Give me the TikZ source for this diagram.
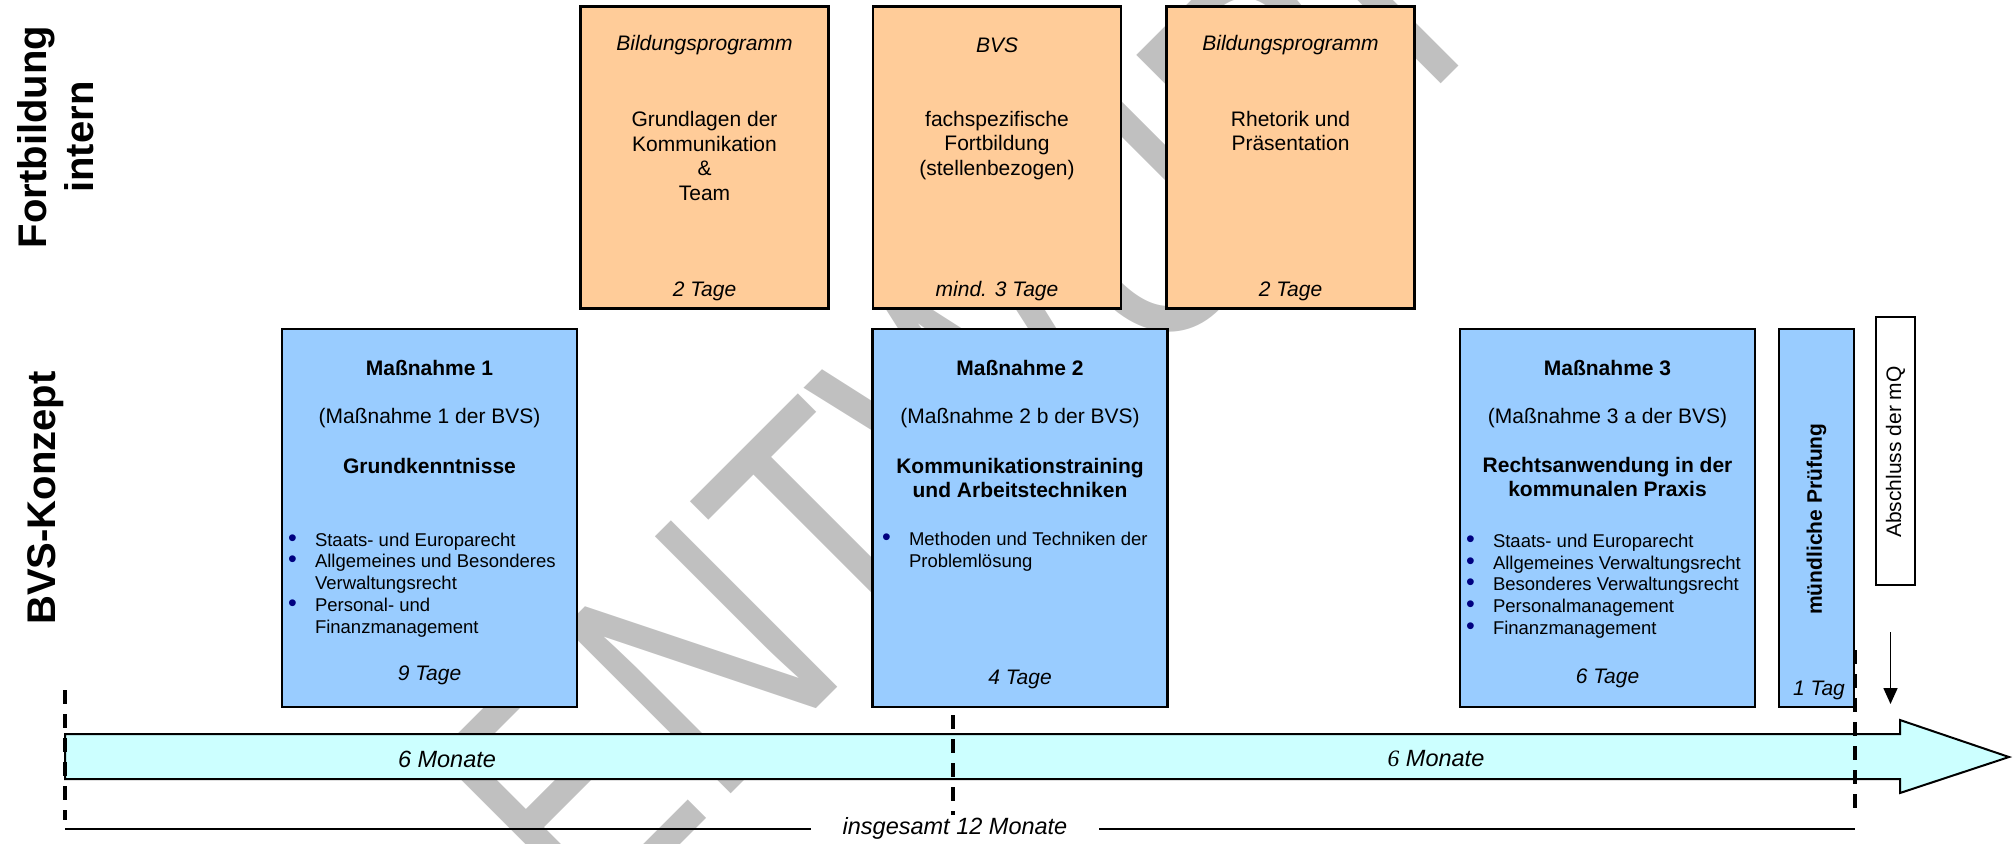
\documentclass[tikz,border=0pt]{standalone}
\usepackage{fontspec}
\setmainfont{Liberation Sans}
\newfontfamily\tnr{Liberation Serif}
\usetikzlibrary{arrows.meta}
\definecolor{obox}{HTML}{FFCC99}
\definecolor{bbox}{HTML}{99CCFF}
\definecolor{arrowfill}{HTML}{CCFFFF}
\definecolor{bulletblue}{HTML}{000080}
\definecolor{wm}{HTML}{C0C0C0}
\newcommand{\bul}{\makebox[13.5pt][l]{\textcolor{bulletblue}{\fontsize{12.5}{10}\selectfont\textbullet}}}
\newcommand{\nobul}{\hspace*{13.5pt}}
\begin{document}
\begin{tikzpicture}[x=0.5pt,y=-0.5pt,
  every node/.style={inner sep=0pt,outer sep=0pt},
  frame/.style={draw=black,line width=1.1pt},
  obx/.style={frame,fill=obox,minimum width=124pt,minimum height=151pt},
  bbx/.style={frame,fill=bbox,minimum width=147.5pt,minimum height=189pt},
  tx/.style={font=\fontsize{10.5}{12.25}\selectfont,align=center},
  txb/.style={font=\fontsize{10.5}{12}\selectfont\bfseries,align=center},
  txi/.style={font=\fontsize{10.5}{12.25}\selectfont\itshape},
  lst/.style={font=\fontsize{9.25}{10.9}\selectfont,align=left,anchor=west},
  side/.style={font=\fontsize{20}{23.5}\selectfont\bfseries,align=center,rotate=90},
  tl/.style={font=\fontsize{11.75}{13}\selectfont\itshape},
  marker/.style={line width=2pt,dash pattern=on 7pt off 5pt},
  thinline/.style={line width=0.9pt},
]
\useasboundingbox (0,0) rectangle (2014,843);

% watermark
\node[font=\fontsize{135}{135}\selectfont,text=wm,rotate=45,yscale=1.267,anchor=base] (wmk) at (1065,460) {ENTWURF};

% timeline arrow
\draw[line width=1pt,fill=arrowfill] (65,734) -- (1900,734) -- (1900,720) -- (2009,757)
  -- (1900,793) -- (1900,779) -- (65,779) -- cycle;
\node[tl] (m1) at (447,759) {6 Monate};
\node[tl] (m2) at (1436,759) {{\tnr 6} Monate};

% side labels
\node[side] (fi) at (56,137) {Fortbildung\\intern};
\node[side] (bk) at (46,498) {BVS-Konzept};

% orange boxes
\node[obx] (f1) at (704.5,157.5) {};
\node[obx] (f2) at (997,157.5) {};
\node[obx] (f3) at (1290.5,157.5) {};
\node[txi] (f1a) at (704.5,45) {Bildungsprogramm};
\node[tx]  (f1b) at (704.5,156) {Grundlagen der\\Kommunikation\\\&\\Team};
\node[txi] (f1c) at (704.5,291) {2 Tage};
\node[txi] (f2a) at (997,45) {BVS};
\node[tx]  (f2b) at (997,145.5) {fachspezifische\\Fortbildung\\(stellenbezogen)};
\node[txi] (f2c) at (997,291) {mind. 3 Tage};
\node[txi] (f3a) at (1290.5,45) {Bildungsprogramm};
\node[tx]  (f3b) at (1290.5,131) {Rhetorik und\\Präsentation};
\node[txi] (f3c) at (1290.5,291) {2 Tage};

% blue boxes
\node[bbx] (b1) at (429.5,518) {};
\node[bbx] (b2) at (1020,518) {};
\node[bbx] (b3) at (1607.5,518) {};
\node[frame,fill=bbox,minimum width=37.5pt,minimum height=189pt] (b4) at (1816.5,518) {};
\node[frame,fill=white,minimum width=19.5pt,minimum height=134pt] (ab) at (1895.5,451) {};

\node[txb] (b1a) at (429.5,368) {Maßnahme 1};
\node[tx]  (b1b) at (429.5,418) {(Maßnahme 1 der BVS)};
\node[txb] (b1c) at (429.5,466) {Grundkenntnisse};
\node[lst] (b1d) at (288,585) {\bul Staats- und Europarecht\\\bul Allgemeines und Besonderes\\\nobul Verwaltungsrecht\\\bul Personal- und\\\nobul Finanzmanagement};
\node[txi] (b1e) at (429.5,675) {9 Tage};

\node[txb] (b2a) at (1020,368) {Maßnahme 2};
\node[tx]  (b2b) at (1020,418) {(Maßnahme 2 b der BVS)};
\node[txb] (b2c) at (1020,478) {Kommunikationstraining\\und Arbeitstechniken};
\node[lst] (b2d) at (882,552) {\bul Methoden und Techniken der\\\nobul Problemlösung};
\node[txi] (b2e) at (1020,679) {4 Tage};

\node[txb] (b3a) at (1607.5,368) {Maßnahme 3};
\node[tx]  (b3b) at (1607.5,418) {(Maßnahme 3 a der BVS)};
\node[txb] (b3c) at (1607.5,477) {Rechtsanwendung in der\\kommunalen Praxis};
\node[lst] (b3d) at (1466,586) {\bul Staats- und Europarecht\\\bul Allgemeines Verwaltungsrecht\\\bul Besonderes Verwaltungsrecht\\\bul Personalmanagement\\\bul Finanzmanagement};
\node[txi] (b3e) at (1607.5,678) {6 Tage};

\node[txb,rotate=90] (b4a) at (1816.5,519) {mündliche Prüfung};
\node[txi] (b4b) at (1819,690) {1 Tag};
\node[tx,rotate=90] (aba) at (1895.5,452) {Abschluss der mQ};

% down arrow
\coordinate (d0) at (1890.5,632);
\coordinate (d1) at (1890.5,704);
\draw[line width=0.8pt,-{Triangle[length=8pt,width=7pt]}] (d0) -- (d1);

% dashed markers
\coordinate (s0) at (65,690);   \coordinate (s1) at (65,820);
\coordinate (h0) at (953,715);  \coordinate (h1) at (953,815);
\coordinate (e0) at (1855,650); \coordinate (e1) at (1855,810);
\draw[marker] (s0) -- (s1);
\draw[marker] (h0) -- (h1);
\draw[marker] (e0) -- (e1);

% total duration
\node[tl,inner xsep=16pt] (ins) at (955,828) {insgesamt 12 Monate};
\coordinate (t0) at (65,829);
\coordinate (t1) at (1855,829);
\draw[thinline] (t0) -- (t0 -| ins.west);
\draw[thinline] (ins.east |- t1) -- (t1);
\end{tikzpicture}
\end{document}
